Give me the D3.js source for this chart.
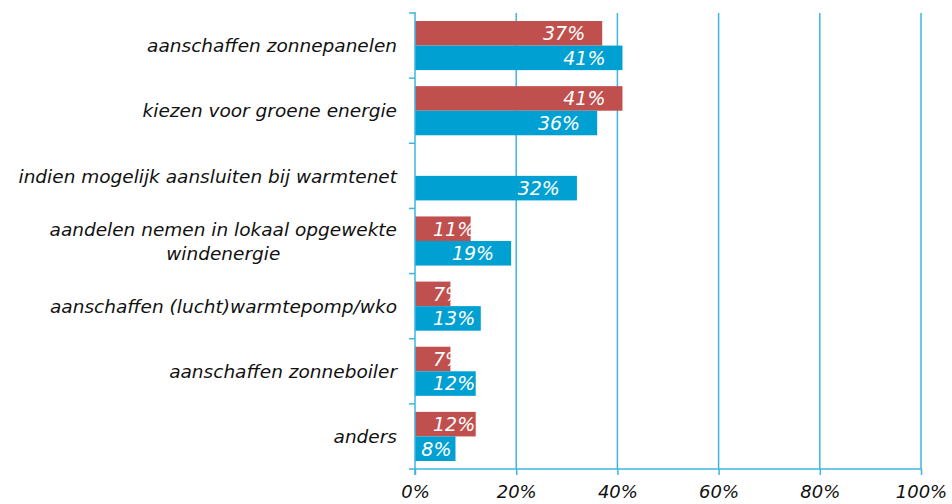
<!DOCTYPE html>
<html>
<head>
<meta charset="utf-8">
<script src="https://cdn.jsdelivr.net/npm/d3@7"></script>
<style>
  body { margin: 0; background: #fff; }
  text { font-family: "DejaVu Sans", Verdana, sans-serif; font-style: italic; }
</style>
</head>
<body>
<svg width="952" height="504"></svg>
<script>
// categories, top to bottom ("\n" = line break in the label)
var CATEGORIES = [
  "aanschaffen zonnepanelen",
  "kiezen voor groene energie",
  "indien mogelijk aansluiten bij warmtenet",
  "aandelen nemen in lokaal opgewekte\nwindenergie",
  "aanschaffen (lucht)warmtepomp/wko",
  "aanschaffen zonneboiler",
  "anders"
];
// red series (no value for warmtenet)
var SERIES_RED = [37, 41, null, 11, 7, 7, 12];
// blue series
var SERIES_BLUE = [41, 36, 32, 19, 13, 12, 8];
var X_TICKS = [0, 20, 40, 60, 80, 100];

var RED = "#c0504d", BLUE = "#00a0d2", GRID = "#3db5e2";

var svg = d3.select("svg"),
  margin = { top: 13, right: 31, bottom: 35, left: 415 },
  width = +svg.attr("width") - margin.left - margin.right,
  height = +svg.attr("height") - margin.top - margin.bottom;

var g = svg.append("g")
  .attr("transform", "translate(" + margin.left + "," + margin.top + ")");

var xScale = d3.scaleLinear().domain([0, 100]).range([0, width]);
var yScale = d3.scaleBand().domain(CATEGORIES).range([0, height])
  .paddingInner(0.246).paddingOuter(0.123);
var yInner = d3.scaleBand().domain(["red", "blue"]).range([0, yScale.bandwidth()]);

// vertical gridlines
g.selectAll(".grid")
  .data(X_TICKS.slice(1))
  .enter()
  .append("line")
  .attr("x1", function (d) { return xScale(d); })
  .attr("x2", function (d) { return xScale(d); })
  .attr("y1", 0)
  .attr("y2", height)
  .style("stroke", GRID)
  .style("stroke-width", 1.5);

// bars
var rows = CATEGORIES.map(function (c, i) {
  return { cat: c, red: SERIES_RED[i], blue: SERIES_BLUE[i] };
});
var bars = [];
rows.forEach(function (r) {
  if (r.red != null) bars.push({ cat: r.cat, key: "red", v: r.red });
  if (r.blue != null) bars.push({ cat: r.cat, key: "blue", v: r.blue });
});

g.selectAll(".bar")
  .data(bars)
  .enter()
  .append("rect")
  .attr("x", 0)
  .attr("y", function (d) { return yScale(d.cat) + yInner(d.key); })
  .attr("width", function (d) { return xScale(d.v); })
  .attr("height", yInner.bandwidth())
  .style("fill", function (d) { return d.key === "red" ? RED : BLUE; });

// value labels, white, near inside end (text outside bar vanishes on white)
g.selectAll(".val")
  .data(bars)
  .enter()
  .append("text")
  .attr("y", function (d) { return yScale(d.cat) + yInner(d.key) + yInner.bandwidth() / 2; })
  .attr("dy", "0.36em")
  .style("font-size", "19px")
  .style("fill", "#fff")
  .text(function (d) { return d.v + "%"; })
  .attr("x", function (d) {
    var w = this.getComputedTextLength();
    var end = xScale(d.v);
    var x = Math.max(end - 17 - w, 18);
    // blue bars keep the label inside when it nearly fits
    if (d.key === "blue" && x + w > end) x = end - 4 - w;
    return x;
  });

// axes
var xAxis = d3.axisBottom(xScale).tickValues(X_TICKS)
  .tickFormat(function (d) { return d + "%"; }).tickSize(6).tickPadding(10);
var gx = g.append("g").attr("transform", "translate(0," + height + ")").call(xAxis);
gx.select(".domain").attr("d", "M-6,0H" + width).style("stroke", GRID).style("stroke-width", 1.5);
gx.selectAll(".tick line").style("stroke", GRID).style("stroke-width", 1.5);
gx.selectAll(".tick text").style("font-size", "18px").style("fill", "#111");

// y axis line + ticks at band boundaries
g.append("line")
  .attr("x1", 0).attr("x2", 0).attr("y1", -1).attr("y2", height + 6)
  .style("stroke", GRID).style("stroke-width", 1.5);
var boundaries = CATEGORIES.map(function (c) { return yScale(c) - yScale.step() * yScale.paddingInner() / 2; });
g.selectAll(".ytick")
  .data(boundaries)
  .enter()
  .append("line")
  .attr("x1", -6).attr("x2", 0)
  .attr("y1", function (d) { return d; })
  .attr("y2", function (d) { return d; })
  .style("stroke", GRID).style("stroke-width", 1.5);

// category labels
var lab = g.selectAll(".cat")
  .data(CATEGORIES)
  .enter()
  .append("text")
  .attr("text-anchor", "middle")
  .style("font-size", "18.5px")
  .style("fill", "#111")
  .attr("transform", function (d) {
    return "translate(0," + (yScale(d) + yScale.bandwidth() / 2) + ")";
  });
lab.each(function (d) {
  var lines = d.split("\n"), t = d3.select(this);
  var lh = 24;
  var ws = [];
  lines.forEach(function (l, i) {
    var ts = t.append("tspan").attr("x", 0)
      .attr("y", (i - (lines.length - 1) / 2) * lh)
      .attr("dy", "0.36em").text(l);
    ws.push(ts.node().getComputedTextLength());
  });
  var maxW = d3.max(ws);
  t.selectAll("tspan").attr("x", -18 - maxW / 2);
});
</script>
</body>
</html>
